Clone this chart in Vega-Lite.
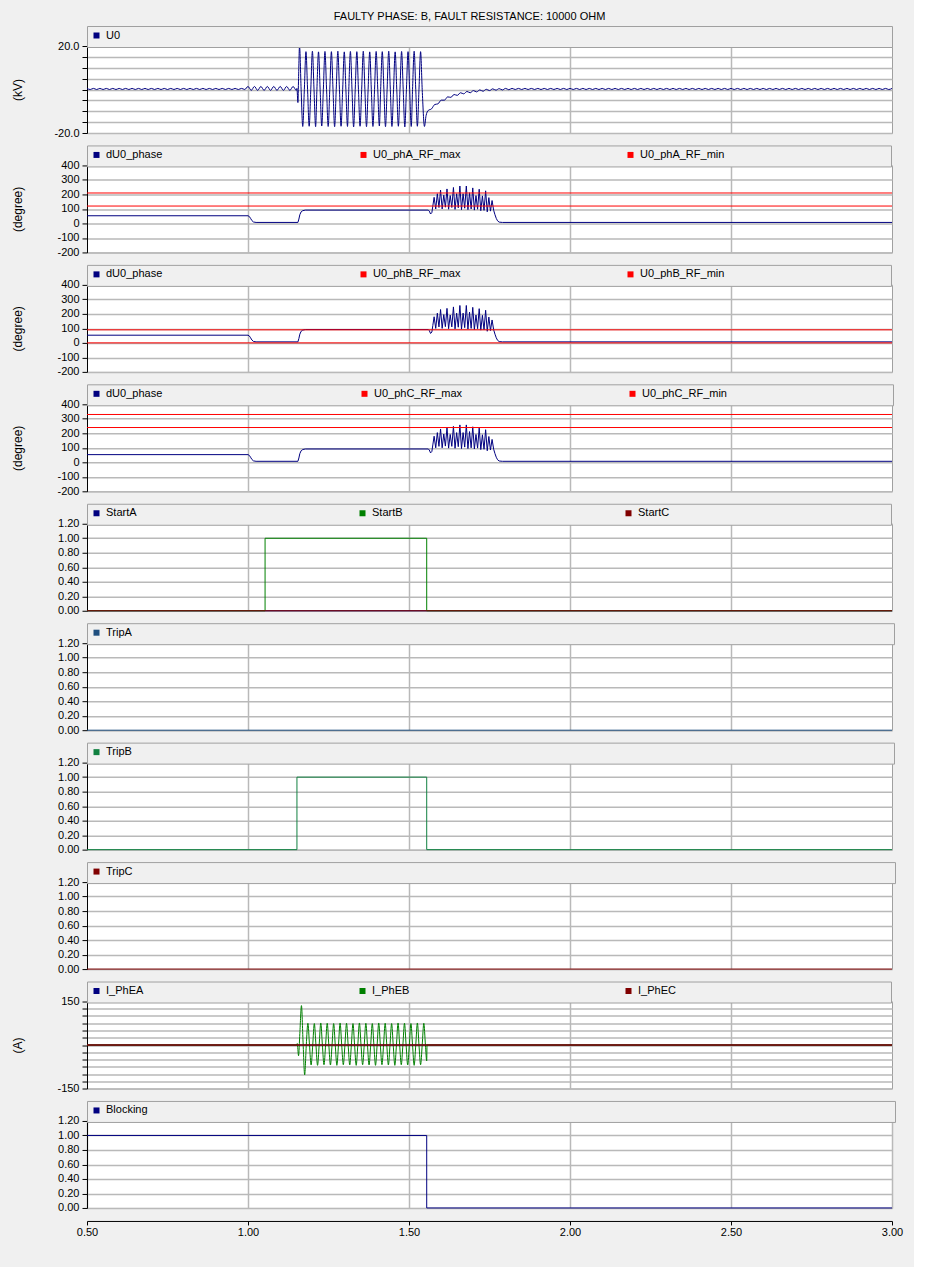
{
"$schema": "https://vega.github.io/schema/vega-lite/v6.json",
"background": "#f0f0f0",
"padding": {"left": 10, "top": 11, "right": 10, "bottom": 30},
"title": {"text": "FAULTY PHASE: B, FAULT RESISTANCE: 10000 OHM", "anchor": "middle", "frame": "group", "dx": -20, "offset": 3, "font": "Liberation Sans", "fontSize": 11, "fontWeight": "normal", "color": "#000000"},
"bounds": "flush",
"spacing": 32.44,
"datasets": {
"u0": [
{"t":0.5,"v":0.5},{"t":0.51,"v":0},{"t":0.52,"v":0.5},{"t":0.53,"v":0},{"t":0.54,"v":0.5},{"t":0.55,"v":0},{"t":0.56,"v":0.5},{"t":0.57,"v":0},{"t":0.58,"v":0.5},{"t":0.59,"v":0},
{"t":0.6,"v":0.5},{"t":0.61,"v":0},{"t":0.62,"v":0.5},{"t":0.63,"v":0},{"t":0.64,"v":0.5},{"t":0.65,"v":0},{"t":0.66,"v":0.5},{"t":0.67,"v":0},{"t":0.68,"v":0.5},{"t":0.69,"v":0},
{"t":0.7,"v":0.5},{"t":0.71,"v":0},{"t":0.72,"v":0.5},{"t":0.73,"v":0},{"t":0.74,"v":0.5},{"t":0.75,"v":0},{"t":0.76,"v":0.5},{"t":0.77,"v":0},{"t":0.78,"v":0.5},{"t":0.79,"v":0},
{"t":0.8,"v":0.5},{"t":0.81,"v":0},{"t":0.82,"v":0.5},{"t":0.83,"v":0},{"t":0.84,"v":0.5},{"t":0.85,"v":0},{"t":0.86,"v":0.5},{"t":0.87,"v":0},{"t":0.88,"v":0.5},{"t":0.89,"v":0},
{"t":0.9,"v":0.5},{"t":0.91,"v":0},{"t":0.92,"v":0.5},{"t":0.93,"v":0},{"t":0.94,"v":0.5},{"t":0.95,"v":0},{"t":0.96,"v":0.5},{"t":0.97,"v":0},{"t":0.98,"v":0.5},{"t":0.99,"v":0},
{"t":1,"v":1.4},{"t":1.01,"v":-0.4},{"t":1.02,"v":1.4},{"t":1.03,"v":-0.4},{"t":1.04,"v":1.4},{"t":1.05,"v":-0.4},{"t":1.06,"v":1.4},{"t":1.07,"v":-0.4},{"t":1.08,"v":1.4},{"t":1.09,"v":-0.4},
{"t":1.1,"v":1.4},{"t":1.11,"v":-0.4},{"t":1.12,"v":1.4},{"t":1.13,"v":-0.4},{"t":1.14,"v":1.4},{"t":1.15,"v":-0.4},
{"t":1.152,"v":0.5},{"t":1.155,"v":-6},{"t":1.157,"v":5},{"t":1.16,"v":20},{"t":1.165,"v":0},{"t":1.17,"v":-17},{"t":1.175,"v":0},
{"t":1.18,"v":17.4},{"t":1.185,"v":0},{"t":1.19,"v":-16.9},{"t":1.195,"v":0},
{"t":1.2,"v":17.6},{"t":1.205,"v":0},{"t":1.21,"v":-17.1},{"t":1.214,"v":0},
{"t":1.219,"v":17.3},{"t":1.224,"v":0},{"t":1.229,"v":-16.8},{"t":1.234,"v":0},
{"t":1.239,"v":17.5},{"t":1.244,"v":0},{"t":1.249,"v":-17},{"t":1.254,"v":0},
{"t":1.259,"v":17.4},{"t":1.264,"v":0},{"t":1.269,"v":-17.1},{"t":1.274,"v":0},
{"t":1.279,"v":17.6},{"t":1.284,"v":0},{"t":1.289,"v":-16.9},{"t":1.294,"v":0},
{"t":1.299,"v":17.3},{"t":1.304,"v":0},{"t":1.309,"v":-17},{"t":1.313,"v":0},
{"t":1.318,"v":17.5},{"t":1.323,"v":0},{"t":1.328,"v":-17.2},{"t":1.333,"v":0},
{"t":1.338,"v":17.4},{"t":1.343,"v":0},{"t":1.348,"v":-16.9},{"t":1.353,"v":0},
{"t":1.358,"v":17.6},{"t":1.363,"v":0},{"t":1.368,"v":-17.1},{"t":1.373,"v":0},
{"t":1.378,"v":17.3},{"t":1.383,"v":0},{"t":1.388,"v":-17},{"t":1.393,"v":0},
{"t":1.398,"v":17.5},{"t":1.403,"v":0},{"t":1.408,"v":-16.8},{"t":1.412,"v":0},
{"t":1.417,"v":17.4},{"t":1.422,"v":0},{"t":1.427,"v":-17.1},{"t":1.432,"v":0},
{"t":1.437,"v":17.6},{"t":1.442,"v":0},{"t":1.447,"v":-17},{"t":1.452,"v":0},
{"t":1.457,"v":17.3},{"t":1.462,"v":0},{"t":1.467,"v":-16.9},{"t":1.472,"v":0},
{"t":1.477,"v":17.5},{"t":1.482,"v":0},{"t":1.487,"v":-17.2},{"t":1.492,"v":0},
{"t":1.497,"v":17.4},{"t":1.502,"v":0},{"t":1.507,"v":-17},{"t":1.511,"v":0},
{"t":1.516,"v":17.6},{"t":1.521,"v":0},{"t":1.526,"v":-16.9},{"t":1.531,"v":0},
{"t":1.536,"v":17.4},{"t":1.541,"v":0},{"t":1.548,"v":-17},{"t":1.553,"v":-12},
{"t":1.56,"v":-9.6},{"t":1.57,"v":-8.9},{"t":1.58,"v":-6.9},{"t":1.59,"v":-6.6},{"t":1.6,"v":-4.9},{"t":1.61,"v":-4.9},{"t":1.62,"v":-3.4},{"t":1.63,"v":-3.6},{"t":1.64,"v":-2.3},{"t":1.65,"v":-2.7},
{"t":1.66,"v":-1.5},{"t":1.67,"v":-2},{"t":1.68,"v":-0.9},{"t":1.69,"v":-1.5},{"t":1.7,"v":-0.5},{"t":1.71,"v":-1.1},{"t":1.72,"v":-0.2},{"t":1.73,"v":-0.8},{"t":1.74,"v":0.1},{"t":1.75,"v":-0.5},
{"t":1.76,"v":0.3},{"t":1.77,"v":-0.3},{"t":1.78,"v":0.4},{"t":1.79,"v":-0.2},{"t":1.8,"v":0.5},{"t":1.81,"v":-0.1},
{"t":1.82,"v":0.5},{"t":1.83,"v":0},{"t":1.84,"v":0.5},{"t":1.85,"v":0},{"t":1.86,"v":0.5},{"t":1.87,"v":0},{"t":1.88,"v":0.5},{"t":1.89,"v":0},
{"t":1.9,"v":0.5},{"t":1.91,"v":0},{"t":1.92,"v":0.5},{"t":1.93,"v":0},{"t":1.94,"v":0.5},{"t":1.95,"v":0},{"t":1.96,"v":0.5},{"t":1.97,"v":0},{"t":1.98,"v":0.5},{"t":1.99,"v":0},
{"t":2,"v":0.5},{"t":2.01,"v":0},{"t":2.02,"v":0.5},{"t":2.03,"v":0},{"t":2.04,"v":0.5},{"t":2.05,"v":0},{"t":2.06,"v":0.5},{"t":2.07,"v":0},{"t":2.08,"v":0.5},{"t":2.09,"v":0},
{"t":2.1,"v":0.5},{"t":2.11,"v":0},{"t":2.12,"v":0.5},{"t":2.13,"v":0},{"t":2.14,"v":0.5},{"t":2.15,"v":0},{"t":2.16,"v":0.5},{"t":2.17,"v":0},{"t":2.18,"v":0.5},{"t":2.19,"v":0},
{"t":2.2,"v":0.5},{"t":2.21,"v":0},{"t":2.22,"v":0.5},{"t":2.23,"v":0},{"t":2.24,"v":0.5},{"t":2.25,"v":0},{"t":2.26,"v":0.5},{"t":2.27,"v":0},{"t":2.28,"v":0.5},{"t":2.29,"v":0},
{"t":2.3,"v":0.5},{"t":2.31,"v":0},{"t":2.32,"v":0.5},{"t":2.33,"v":0},{"t":2.34,"v":0.5},{"t":2.35,"v":0},{"t":2.36,"v":0.5},{"t":2.37,"v":0},{"t":2.38,"v":0.5},{"t":2.39,"v":0},
{"t":2.4,"v":0.5},{"t":2.41,"v":0},{"t":2.42,"v":0.5},{"t":2.43,"v":0},{"t":2.44,"v":0.5},{"t":2.45,"v":0},{"t":2.46,"v":0.5},{"t":2.47,"v":0},{"t":2.48,"v":0.5},{"t":2.49,"v":0},
{"t":2.5,"v":0.5},{"t":2.51,"v":0},{"t":2.52,"v":0.5},{"t":2.53,"v":0},{"t":2.54,"v":0.5},{"t":2.55,"v":0},{"t":2.56,"v":0.5},{"t":2.57,"v":0},{"t":2.58,"v":0.5},{"t":2.59,"v":0},
{"t":2.6,"v":0.5},{"t":2.61,"v":0},{"t":2.62,"v":0.5},{"t":2.63,"v":0},{"t":2.64,"v":0.5},{"t":2.65,"v":0},{"t":2.66,"v":0.5},{"t":2.67,"v":0},{"t":2.68,"v":0.5},{"t":2.69,"v":0},
{"t":2.7,"v":0.5},{"t":2.71,"v":0},{"t":2.72,"v":0.5},{"t":2.73,"v":0},{"t":2.74,"v":0.5},{"t":2.75,"v":0},{"t":2.76,"v":0.5},{"t":2.77,"v":0},{"t":2.78,"v":0.5},{"t":2.79,"v":0},
{"t":2.8,"v":0.5},{"t":2.81,"v":0},{"t":2.82,"v":0.5},{"t":2.83,"v":0},{"t":2.84,"v":0.5},{"t":2.85,"v":0},{"t":2.86,"v":0.5},{"t":2.87,"v":0},{"t":2.88,"v":0.5},{"t":2.89,"v":0},
{"t":2.9,"v":0.5},{"t":2.91,"v":0},{"t":2.92,"v":0.5},{"t":2.93,"v":0},{"t":2.94,"v":0.5},{"t":2.95,"v":0},{"t":2.96,"v":0.5},{"t":2.97,"v":0},{"t":2.98,"v":0.5},{"t":2.99,"v":0},{"t":3,"v":0.5}
],
"phase": [
{"t":0.5,"v":53},{"t":1,"v":53},{"t":1.004,"v":48},{"t":1.008,"v":35},{"t":1.012,"v":20},{"t":1.017,"v":10},{"t":1.025,"v":7},{"t":1.155,"v":7},{"t":1.158,"v":30},{"t":1.161,"v":60},{"t":1.165,"v":80},{"t":1.17,"v":88},{"t":1.178,"v":92},
{"t":1.56,"v":92},{"t":1.563,"v":85},{"t":1.567,"v":65},{"t":1.571,"v":75},{"t":1.574,"v":120},
{"t":1.578,"v":180},{"t":1.583,"v":100},{"t":1.588,"v":205},{"t":1.593,"v":110},{"t":1.598,"v":230},{"t":1.603,"v":100},{"t":1.608,"v":195},{"t":1.613,"v":112},
{"t":1.618,"v":238},{"t":1.623,"v":98},{"t":1.628,"v":192},{"t":1.633,"v":110},{"t":1.638,"v":248},{"t":1.643,"v":97},{"t":1.648,"v":205},{"t":1.653,"v":108},
{"t":1.658,"v":258},{"t":1.663,"v":95},{"t":1.668,"v":205},{"t":1.673,"v":105},{"t":1.678,"v":258},{"t":1.683,"v":95},{"t":1.688,"v":212},{"t":1.693,"v":100},
{"t":1.698,"v":245},{"t":1.703,"v":92},{"t":1.708,"v":192},{"t":1.713,"v":98},{"t":1.718,"v":236},{"t":1.723,"v":88},{"t":1.728,"v":190},{"t":1.733,"v":90},
{"t":1.738,"v":225},{"t":1.743,"v":80},{"t":1.748,"v":178},{"t":1.753,"v":85},{"t":1.758,"v":158},{"t":1.763,"v":90},{"t":1.767,"v":60},{"t":1.771,"v":35},{"t":1.775,"v":18},{"t":1.78,"v":9},{"t":1.79,"v":7},{"t":3,"v":7}
],
"ieb": [
{"t":0.5,"v":0},{"t":1.15,"v":0},{"t":1.153,"v":5},{"t":1.157,"v":-37},{"t":1.161,"v":40},{"t":1.166,"v":136},{"t":1.171,"v":10},{"t":1.176,"v":-103},{"t":1.181,"v":0},
{"t":1.186,"v":75},{"t":1.191,"v":0},{"t":1.196,"v":-69},{"t":1.201,"v":0},
{"t":1.206,"v":74},{"t":1.211,"v":0},{"t":1.216,"v":-70},{"t":1.221,"v":0},
{"t":1.226,"v":76},{"t":1.231,"v":0},{"t":1.236,"v":-68},{"t":1.241,"v":0},
{"t":1.246,"v":75},{"t":1.251,"v":0},{"t":1.256,"v":-69},{"t":1.261,"v":0},
{"t":1.266,"v":74},{"t":1.271,"v":0},{"t":1.276,"v":-70},{"t":1.281,"v":0},
{"t":1.286,"v":76},{"t":1.291,"v":0},{"t":1.296,"v":-68},{"t":1.301,"v":0},
{"t":1.306,"v":75},{"t":1.311,"v":0},{"t":1.316,"v":-69},{"t":1.321,"v":0},
{"t":1.326,"v":74},{"t":1.331,"v":0},{"t":1.336,"v":-70},{"t":1.341,"v":0},
{"t":1.346,"v":76},{"t":1.351,"v":0},{"t":1.356,"v":-68},{"t":1.361,"v":0},
{"t":1.366,"v":75},{"t":1.371,"v":0},{"t":1.376,"v":-69},{"t":1.381,"v":0},
{"t":1.386,"v":74},{"t":1.391,"v":0},{"t":1.396,"v":-70},{"t":1.401,"v":0},
{"t":1.406,"v":76},{"t":1.411,"v":0},{"t":1.416,"v":-68},{"t":1.421,"v":0},
{"t":1.426,"v":75},{"t":1.431,"v":0},{"t":1.436,"v":-69},{"t":1.441,"v":0},
{"t":1.446,"v":74},{"t":1.451,"v":0},{"t":1.456,"v":-70},{"t":1.461,"v":0},
{"t":1.466,"v":76},{"t":1.471,"v":0},{"t":1.476,"v":-68},{"t":1.481,"v":0},
{"t":1.486,"v":75},{"t":1.491,"v":0},{"t":1.496,"v":-69},{"t":1.501,"v":0},
{"t":1.506,"v":74},{"t":1.511,"v":0},{"t":1.516,"v":-70},{"t":1.521,"v":0},
{"t":1.526,"v":76},{"t":1.531,"v":0},{"t":1.536,"v":-68},{"t":1.541,"v":0},
{"t":1.546,"v":75},{"t":1.551,"v":0},{"t":1.555,"v":-55},{"t":1.556,"v":0},{"t":3,"v":0}
],
"flat0": [{"t":0.5,"v":0},{"t":3,"v":0}]
},
"vconcat": [
{
"width": 805, "height": 87,
"data": {"name": "u0"},
"mark": {"type": "line", "strokeWidth": 1, "interpolate": "monotone"},
"encoding": {
"x": {"field":"t","type":"quantitative","scale":{"domain":[0.5,3],"nice":false,"zero":false},"axis":{"values":[1,1.5,2,2.5],"labels":false,"ticks":false,"domain":false,"title":null,"grid":true}},
"y": {"field":"v","type":"quantitative","scale":{"domain":[-20,20],"nice":false,"zero":false},"axis":{"title":"(kV)","titleX":-70,"titleY":43.5,"titleBaseline":"middle","values":[-20,-15,-10,-5,0,5,10,15,20],"labelExpr":"datum.value == 20 ? '20.0' : datum.value == -20 ? '-20.0' : ''"}},
"color": {"datum":"U0","type":"nominal","scale":{"domain":["U0"],"range":["#000080"]},"legend":{"title":null,"orient":"none","legendX":0,"legendY":-20,"direction":"horizontal","labelExpr":"pad(datum.label, 253) + '\u200b'"}}
}
},
{
"width": 805, "height": 87,
"encoding": {
"x": {"field":"t","type":"quantitative","scale":{"domain":[0.5,3],"nice":false,"zero":false},"axis":{"values":[1,1.5,2,2.5],"labels":false,"ticks":false,"domain":false,"title":null,"grid":true}},
"y": {"field":"v","type":"quantitative","scale":{"domain":[-200,400],"nice":false,"zero":false},"axis":{"title":"(degree)","titleX":-70,"titleY":43.5,"titleBaseline":"middle","values":[-200,-100,0,100,200,300,400],"labelExpr":"toString(datum.value)"}}
},
"layer": [
{"data":{"name":"phase"},"mark":{"type":"line","strokeWidth":1},"encoding":{"color":{"datum":"dU0_phase","type":"nominal","scale":{"domain":["dU0_phase","U0_phA_RF_max","U0_phA_RF_min"],"range":["#000080","#ff0000","#ff0000"]},"legend":{"title":null,"orient":"none","legendX":0,"legendY":-20,"direction":"horizontal","labelExpr":"pad(datum.label, 66) + '\u200b'"}}}},
{"data":{"values":[{"t":0.5,"v":210,"s":"U0_phA_RF_max"},{"t":3,"v":210,"s":"U0_phA_RF_max"},{"t":0.5,"v":120,"s":"U0_phA_RF_min"},{"t":3,"v":120,"s":"U0_phA_RF_min"}]},"mark":{"type":"line","strokeWidth":1},"encoding":{"color":{"field":"s","type":"nominal","scale":{"domain":["dU0_phase","U0_phA_RF_max","U0_phA_RF_min"],"range":["#000080","#ff0000","#ff0000"]},"legend":{"title":null,"orient":"none","legendX":0,"legendY":-20,"direction":"horizontal","labelExpr":"pad(datum.label, 66) + '\u200b'"}}}}
]
},
{
"width": 805, "height": 87,
"encoding": {
"x": {"field":"t","type":"quantitative","scale":{"domain":[0.5,3],"nice":false,"zero":false},"axis":{"values":[1,1.5,2,2.5],"labels":false,"ticks":false,"domain":false,"title":null,"grid":true}},
"y": {"field":"v","type":"quantitative","scale":{"domain":[-200,400],"nice":false,"zero":false},"axis":{"title":"(degree)","titleX":-70,"titleY":43.5,"titleBaseline":"middle","values":[-200,-100,0,100,200,300,400],"labelExpr":"toString(datum.value)"}}
},
"layer": [
{"data":{"name":"phase"},"mark":{"type":"line","strokeWidth":1},"encoding":{"color":{"datum":"dU0_phase","type":"nominal","scale":{"domain":["dU0_phase","U0_phB_RF_max","U0_phB_RF_min"],"range":["#000080","#ff0000","#ff0000"]},"legend":{"title":null,"orient":"none","legendX":0,"legendY":-20,"direction":"horizontal","labelExpr":"pad(datum.label, 66) + '\u200b'"}}}},
{"data":{"values":[{"t":0.5,"v":90,"s":"U0_phB_RF_max"},{"t":3,"v":90,"s":"U0_phB_RF_max"},{"t":0.5,"v":0,"s":"U0_phB_RF_min"},{"t":3,"v":0,"s":"U0_phB_RF_min"}]},"mark":{"type":"line","strokeWidth":1},"encoding":{"color":{"field":"s","type":"nominal","scale":{"domain":["dU0_phase","U0_phB_RF_max","U0_phB_RF_min"],"range":["#000080","#ff0000","#ff0000"]},"legend":{"title":null,"orient":"none","legendX":0,"legendY":-20,"direction":"horizontal","labelExpr":"pad(datum.label, 66) + '\u200b'"}}}}
]
},
{
"width": 805, "height": 87,
"encoding": {
"x": {"field":"t","type":"quantitative","scale":{"domain":[0.5,3],"nice":false,"zero":false},"axis":{"values":[1,1.5,2,2.5],"labels":false,"ticks":false,"domain":false,"title":null,"grid":true}},
"y": {"field":"v","type":"quantitative","scale":{"domain":[-200,400],"nice":false,"zero":false},"axis":{"title":"(degree)","titleX":-70,"titleY":43.5,"titleBaseline":"middle","values":[-200,-100,0,100,200,300,400],"labelExpr":"toString(datum.value)"}}
},
"layer": [
{"data":{"name":"phase"},"mark":{"type":"line","strokeWidth":1},"encoding":{"color":{"datum":"dU0_phase","type":"nominal","scale":{"domain":["dU0_phase","U0_phC_RF_max","U0_phC_RF_min"],"range":["#000080","#ff0000","#ff0000"]},"legend":{"title":null,"orient":"none","legendX":0,"legendY":-20,"direction":"horizontal","labelExpr":"pad(datum.label, 66) + '\u200b'"}}}},
{"data":{"values":[{"t":0.5,"v":330,"s":"U0_phC_RF_max"},{"t":3,"v":330,"s":"U0_phC_RF_max"},{"t":0.5,"v":240,"s":"U0_phC_RF_min"},{"t":3,"v":240,"s":"U0_phC_RF_min"}]},"mark":{"type":"line","strokeWidth":1},"encoding":{"color":{"field":"s","type":"nominal","scale":{"domain":["dU0_phase","U0_phC_RF_max","U0_phC_RF_min"],"range":["#000080","#ff0000","#ff0000"]},"legend":{"title":null,"orient":"none","legendX":0,"legendY":-20,"direction":"horizontal","labelExpr":"pad(datum.label, 66) + '\u200b'"}}}}
]
},
{
"width": 805, "height": 87,
"encoding": {
"x": {"field":"t","type":"quantitative","scale":{"domain":[0.5,3],"nice":false,"zero":false},"axis":{"values":[1,1.5,2,2.5],"labels":false,"ticks":false,"domain":false,"title":null,"grid":true}},
"y": {"field":"v","type":"quantitative","scale":{"domain":[0,1.2],"nice":false,"zero":false},"axis":{"title":null,"values":[0,0.2,0.4,0.6,0.8,1,1.2],"format":".2f"}}
},
"layer": [
{"data":{"name":"flat0"},"mark":{"type":"line","strokeWidth":1,"interpolate":"step-after"},"encoding":{"color":{"datum":"StartA","type":"nominal","scale":{"domain":["StartA","StartB","StartC"],"range":["#000080","#008000","#800000"]},"legend":{"title":null,"orient":"none","legendX":0,"legendY":-20,"direction":"horizontal","labelExpr":"pad(datum.label, 77) + '\u200b'"}}}},
{"data":{"values":[{"t":0.5,"v":0},{"t":1.053,"v":1},{"t":1.555,"v":0},{"t":3,"v":0}]},"mark":{"type":"line","strokeWidth":1,"interpolate":"step-after"},"encoding":{"color":{"datum":"StartB","type":"nominal","scale":{"domain":["StartA","StartB","StartC"],"range":["#000080","#008000","#800000"]},"legend":{"title":null,"orient":"none","legendX":0,"legendY":-20,"direction":"horizontal","labelExpr":"pad(datum.label, 77) + '\u200b'"}}}},
{"data":{"name":"flat0"},"mark":{"type":"line","strokeWidth":1,"interpolate":"step-after"},"encoding":{"color":{"datum":"StartC","type":"nominal","scale":{"domain":["StartA","StartB","StartC"],"range":["#000080","#008000","#800000"]},"legend":{"title":null,"orient":"none","legendX":0,"legendY":-20,"direction":"horizontal","labelExpr":"pad(datum.label, 77) + '\u200b'"}}}}
]
},
{
"width": 805, "height": 87,
"data": {"name": "flat0"},
"mark": {"type": "line", "strokeWidth": 1, "interpolate": "step-after"},
"encoding": {
"x": {"field":"t","type":"quantitative","scale":{"domain":[0.5,3],"nice":false,"zero":false},"axis":{"values":[1,1.5,2,2.5],"labels":false,"ticks":false,"domain":false,"title":null,"grid":true}},
"y": {"field":"v","type":"quantitative","scale":{"domain":[0,1.2],"nice":false,"zero":false},"axis":{"title":null,"values":[0,0.2,0.4,0.6,0.8,1,1.2],"format":".2f"}},
"color": {"datum":"TripA","type":"nominal","scale":{"domain":["TripA"],"range":["#1f4f7f"]},"legend":{"title":null,"orient":"none","legendX":0,"legendY":-20,"direction":"horizontal","labelExpr":"pad(datum.label, 253) + '\u200b'"}}
}
},
{
"width": 805, "height": 87,
"data": {"values": [{"t":0.5,"v":0},{"t":1.152,"v":1},{"t":1.555,"v":0},{"t":3,"v":0}]},
"mark": {"type": "line", "strokeWidth": 1, "interpolate": "step-after"},
"encoding": {
"x": {"field":"t","type":"quantitative","scale":{"domain":[0.5,3],"nice":false,"zero":false},"axis":{"values":[1,1.5,2,2.5],"labels":false,"ticks":false,"domain":false,"title":null,"grid":true}},
"y": {"field":"v","type":"quantitative","scale":{"domain":[0,1.2],"nice":false,"zero":false},"axis":{"title":null,"values":[0,0.2,0.4,0.6,0.8,1,1.2],"format":".2f"}},
"color": {"datum":"TripB","type":"nominal","scale":{"domain":["TripB"],"range":["#108040"]},"legend":{"title":null,"orient":"none","legendX":0,"legendY":-20,"direction":"horizontal","labelExpr":"pad(datum.label, 253) + '\u200b'"}}
}
},
{
"width": 805, "height": 87,
"data": {"name": "flat0"},
"mark": {"type": "line", "strokeWidth": 1, "interpolate": "step-after"},
"encoding": {
"x": {"field":"t","type":"quantitative","scale":{"domain":[0.5,3],"nice":false,"zero":false},"axis":{"values":[1,1.5,2,2.5],"labels":false,"ticks":false,"domain":false,"title":null,"grid":true}},
"y": {"field":"v","type":"quantitative","scale":{"domain":[0,1.2],"nice":false,"zero":false},"axis":{"title":null,"values":[0,0.2,0.4,0.6,0.8,1,1.2],"format":".2f"}},
"color": {"datum":"TripC","type":"nominal","scale":{"domain":["TripC"],"range":["#800000"]},"legend":{"title":null,"orient":"none","legendX":0,"legendY":-20,"direction":"horizontal","labelExpr":"pad(datum.label, 253) + '\u200b'"}}
}
},
{
"width": 805, "height": 87,
"encoding": {
"x": {"field":"t","type":"quantitative","scale":{"domain":[0.5,3],"nice":false,"zero":false},"axis":{"values":[1,1.5,2,2.5],"labels":false,"ticks":false,"domain":false,"title":null,"grid":true}},
"y": {"field":"v","type":"quantitative","scale":{"domain":[-150,150],"nice":false,"zero":false},"axis":{"title":"(A)","titleX":-70,"titleY":43.5,"titleBaseline":"middle","values":[-150,-125,-100,-75,-50,-25,0,25,50,75,100,125,150],"labelExpr":"datum.value == 150 ? '150' : datum.value == -150 ? '-150' : ''"}}
},
"layer": [
{"data":{"name":"flat0"},"mark":{"type":"line","strokeWidth":1},"encoding":{"color":{"datum":"I_PhEA","type":"nominal","scale":{"domain":["I_PhEA","I_PhEB","I_PhEC"],"range":["#000080","#008000","#800000"]},"legend":{"title":null,"orient":"none","legendX":0,"legendY":-20,"direction":"horizontal","labelExpr":"pad(datum.label, 75) + '\u200b'"}}}},
{"data":{"name":"ieb"},"mark":{"type":"line","strokeWidth":1,"interpolate":"monotone"},"encoding":{"color":{"datum":"I_PhEB","type":"nominal","scale":{"domain":["I_PhEA","I_PhEB","I_PhEC"],"range":["#000080","#008000","#800000"]},"legend":{"title":null,"orient":"none","legendX":0,"legendY":-20,"direction":"horizontal","labelExpr":"pad(datum.label, 75) + '\u200b'"}}}},
{"data":{"name":"flat0"},"mark":{"type":"line","strokeWidth":1.5},"encoding":{"color":{"datum":"I_PhEC","type":"nominal","scale":{"domain":["I_PhEA","I_PhEB","I_PhEC"],"range":["#000080","#008000","#800000"]},"legend":{"title":null,"orient":"none","legendX":0,"legendY":-20,"direction":"horizontal","labelExpr":"pad(datum.label, 75) + '\u200b'"}}}}
]
},
{
"width": 805, "height": 87,
"data": {"values": [{"t":0.5,"v":1},{"t":1.555,"v":0},{"t":3,"v":0}]},
"mark": {"type": "line", "strokeWidth": 1, "interpolate": "step-after"},
"encoding": {
"x": {"field":"t","type":"quantitative","scale":{"domain":[0.5,3],"nice":false,"zero":false},"axis":{"values":[0.5,1,1.5,2,2.5,3],"format":".2f","title":null,"grid":true,"domain":true,"ticks":true,"tickSize":4,"offset":13,"labelPadding":2,"labelFlush":false}},
"y": {"field":"v","type":"quantitative","scale":{"domain":[0,1.2],"nice":false,"zero":false},"axis":{"title":null,"values":[0,0.2,0.4,0.6,0.8,1,1.2],"format":".2f"}},
"color": {"datum":"Blocking","type":"nominal","scale":{"domain":["Blocking"],"range":["#000080"]},"legend":{"title":null,"orient":"none","legendX":0,"legendY":-20,"direction":"horizontal","labelExpr":"pad(datum.label, 251) + '\u200b'"}}
}
}
],
"resolve": {"scale": {"x": "independent", "y": "independent", "color": "independent"}, "axis": {"x": "independent", "y": "independent"}, "legend": {"color": "independent"}},
"config": {
"view": {"stroke": "#a0a0a0", "fill": "#ffffff"},
"axis": {"labelFont": "Liberation Sans", "labelFontSize": 11, "labelColor": "#000000", "titleFont": "Liberation Sans", "titleFontSize": 12, "titleFontWeight": "normal", "titleColor": "#000000", "gridColor": "#b9b9b9", "gridWidth": 1.5, "gridOpacity": 1, "domainColor": "#000000", "tickColor": "#000000", "labelFlush": false},
"axisY": {"tickSize": 5, "labelPadding": 3},
"legend": {"padding": 4, "fillColor": "#f0f0f0", "strokeColor": "#a0a0a0", "symbolType": "square", "symbolSize": 9, "symbolStrokeWidth": 3, "labelFont": "Liberation Sans", "labelFontSize": 11, "labelColor": "#000000", "labelOffset": 4, "columnPadding": 0, "gridAlign": "all", "labelLimit": 3000}
}
}
